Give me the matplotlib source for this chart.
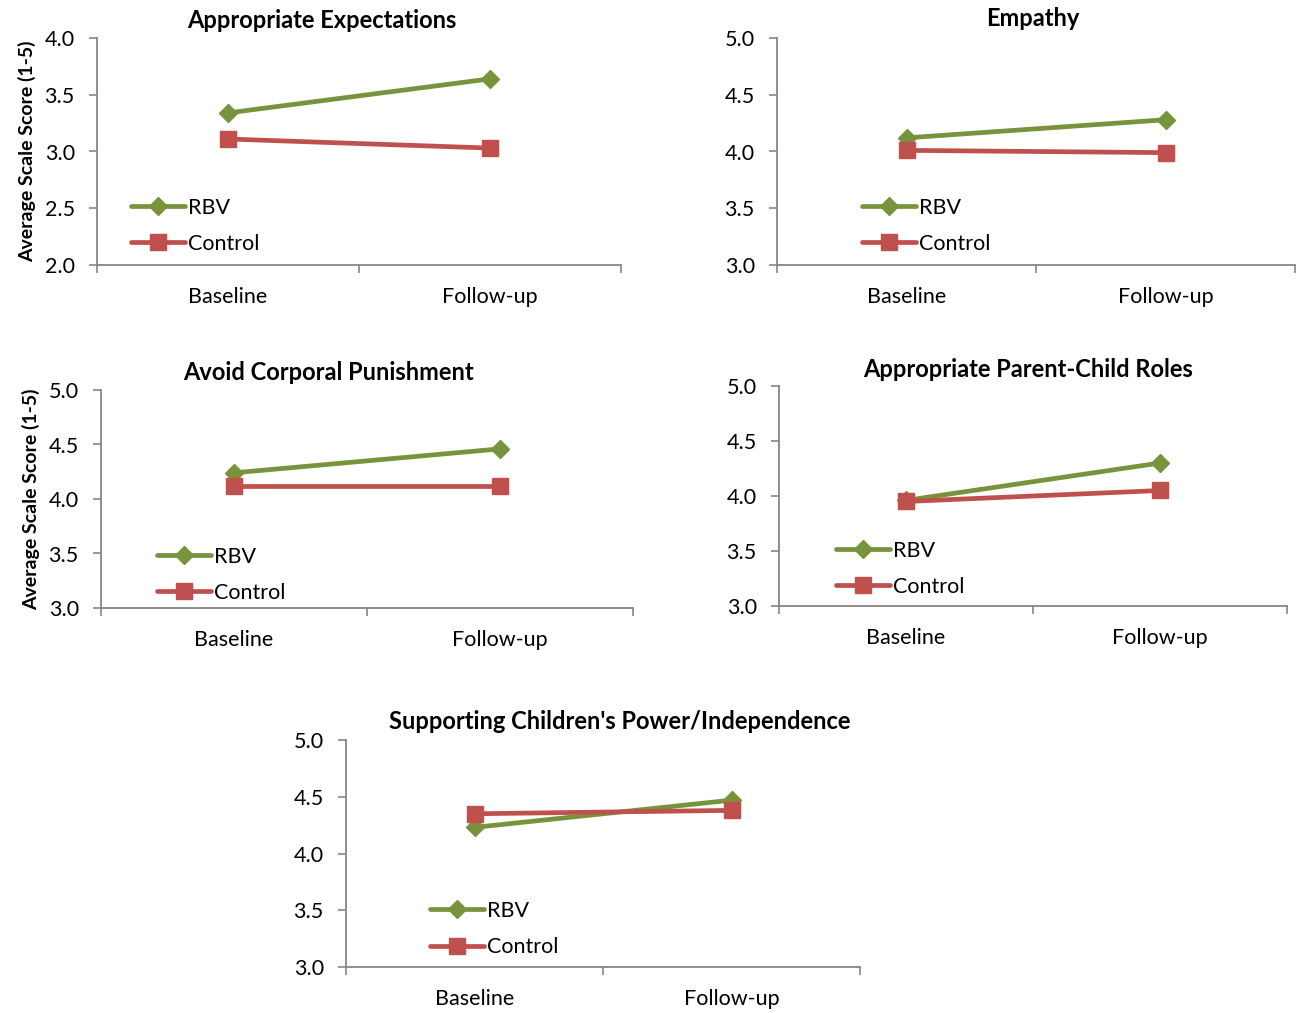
import matplotlib
matplotlib.use("Agg")
import matplotlib.pyplot as plt

plt.rcParams['font.family'] = ['Lato', 'DejaVu Sans']

categories = ["Baseline", "Follow-up"]
titles = ["Appropriate Expectations", "Empathy", "Avoid Corporal Punishment",
          "Appropriate Parent-Child Roles", "Supporting Children's Power/Independence"]
rbv = [[3.34, 3.64], [4.12, 4.28], [4.24, 4.46], [3.96, 4.30], [4.23, 4.47]]
control = [[3.11, 3.03], [4.01, 3.99], [4.12, 4.12], [3.95, 4.05], [4.35, 4.38]]
ylims = [(2.0, 4.0), (3.0, 5.0), (3.0, 5.0), (3.0, 5.0), (3.0, 5.0)]
yticks = [[2.0, 2.5, 3.0, 3.5, 4.0]] + [[3.0, 3.5, 4.0, 4.5, 5.0]] * 4
series_names = ["RBV", "Control"]

W, H = 1299, 1013
fig = plt.figure(figsize=(W / 100, H / 100), dpi=100)

# pixel boxes: left, right, top, bottom
boxes = [(97, 621, 38, 265), (777, 1295, 38, 265), (101, 633, 390, 608),
         (779, 1287, 386, 606), (346, 860, 740, 967)]
title_pos = [(322, 21), (1033, 19), (328, 373), (1028, 369), (620, 721)]
leg_pos = [(0.065, 0.173), (0.164, 0.173), (0.105, 0.152), (0.112, 0.17), (0.163, 0.167)]
ylabel_on = [True, False, True, False, False]

green = "#77933C"
red = "#C0504D"
gray = "#868686"
fs = 15.5

for i in range(5):
    l, r, t, b = boxes[i]
    ax = fig.add_axes([l / W, 1 - b / H, (r - l) / W, (b - t) / H])
    x = list(range(len(categories)))
    ax.plot(x, rbv[i], color=green, lw=3.4, marker="D", ms=9.5, label=series_names[0],
            solid_capstyle="round", zorder=3)
    ax.plot(x, control[i], color=red, lw=3.4, marker="s", ms=12, label=series_names[1],
            solid_capstyle="round", zorder=4)
    ax.set_xlim(-0.5, 1.5)
    ax.set_ylim(*ylims[i])
    ax.set_yticks(yticks[i])
    ax.set_yticklabels([f"{v:.1f}" for v in yticks[i]], fontsize=fs)
    ax.set_xticks(x)
    ax.set_xticklabels(categories, fontsize=fs)
    ax.set_xticks([-0.5, 0.5, 1.5], minor=True)
    ax.tick_params(axis="x", which="major", length=0, pad=16)
    ax.tick_params(axis="x", which="minor", length=6, color=gray, width=1.2, direction="out")
    ax.tick_params(axis="y", length=6, color=gray, width=1.2, direction="out", pad=10)
    for s in ["top", "right"]:
        ax.spines[s].set_visible(False)
    for s in ["left", "bottom"]:
        ax.spines[s].set_color(gray)
        ax.spines[s].set_linewidth(1.3)
    ax.patch.set_alpha(0)
    lx, ly = leg_pos[i]
    ax.legend(loc="center left", bbox_to_anchor=(lx, ly), frameon=False, fontsize=fs,
              handlelength=2.5, handletextpad=0.15, labelspacing=0.75, borderpad=0,
              borderaxespad=0)
    if ylabel_on[i]:
        ax.set_ylabel("Average Scale Score (1-5)", fontsize=14, fontweight="bold", labelpad=6)
    tx, ty = title_pos[i]
    fig.text(tx / W, 1 - ty / H, titles[i], ha="center", va="center", fontsize=17,
             fontweight="bold")

fig.savefig("out.png", dpi=100)
